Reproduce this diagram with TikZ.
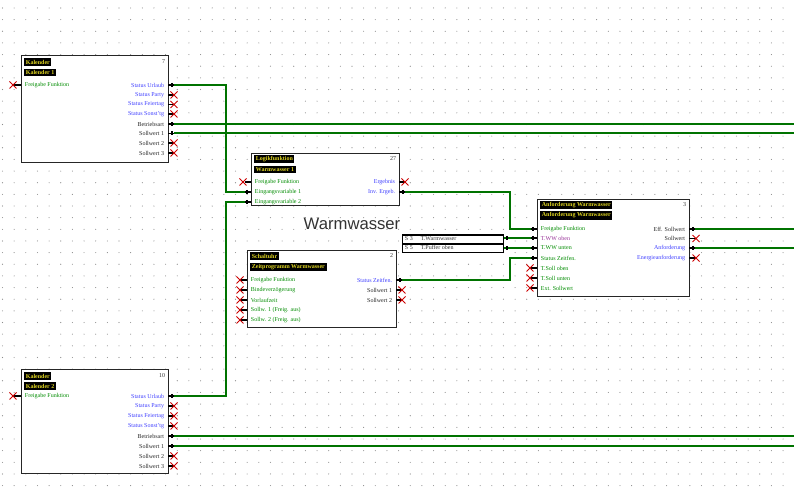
\documentclass[tikz,border=0pt]{standalone}
\usepackage{fontspec}
\setmainfont{Liberation Serif}
\newfontfamily\wwfont{Liberation Sans}
\usetikzlibrary{calc}
\newcommand\lblfont{\fontsize{4.5}{5}\selectfont}
\newcommand\crossat[1]{\draw[xm] ($(#1)+(-3.5,-3.5)$) -- ($(#1)+(3.5,3.5)$) ($(#1)+(-3.5,3.5)$) -- ($(#1)+(3.5,-3.5)$);}
\tikzset{
 blk/.style={draw=black!85, line width=1.1pt, fill=white, inner sep=0pt, anchor=north west},
 hdr/.style={fill=black, text=yellow!85!black, font=\lblfont\bfseries, inner sep=1.2pt, anchor=west},
 inl/.style={text=green!55!black, font=\lblfont, inner sep=0.5pt, anchor=west},
 outb/.style={text=blue!75, font=\lblfont, inner sep=0.5pt, anchor=east},
 outk/.style={text=black!85, font=\lblfont, inner sep=0.5pt, anchor=east},
 inp/.style={text=violet!80, font=\lblfont, inner sep=0.5pt, anchor=west},
 num/.style={text=black!80, font=\lblfont, inner sep=0.5pt, anchor=east},
 wire/.style={draw=green!45!black, line width=1.3pt},
 stub/.style={draw=black, line width=0.9pt},
 xm/.style={draw=red!80!black, line width=0.7pt},
 sens/.style={draw=black, line width=0.9pt, fill=white, anchor=north west, inner sep=0pt},
 stxt/.style={font=\lblfont, text=black!80, inner sep=0.5pt, anchor=west}
}
\begin{document}
\begin{tikzpicture}[x=0.75pt,y=-0.75pt]
\useasboundingbox (0,0) rectangle (794,495);
\fill[white] (0,0) rectangle (794,495);
% grid dots
\foreach \i in {0,...,68}{\foreach \j in {0,...,42}{\fill[black!45] (2.5+\i*11.65,8+\j*11.65) circle (0.55);}}

% ---------- wires ----------
\coordinate (k1urlaub) at (174,85);
\coordinate (k2urlaub) at (174,396);
\coordinate (lgin1) at (245,192);
\coordinate (lgin2) at (245,202);
\coordinate (lginv) at (405,192);
\coordinate (anfreig) at (531,229);
\coordinate (anwwo) at (531,238);
\coordinate (anwwu) at (531,248);
\coordinate (anzeit) at (531,258);
\coordinate (zpzeit) at (402,280);
\coordinate (k1betr) at (174,124);
\coordinate (k1soll) at (174,133);
\coordinate (k2betr) at (174,436);
\coordinate (k2soll) at (174,446);
\coordinate (aneff) at (695,229);
\coordinate (ananf) at (695,248);
\coordinate (rk1betr) at (794,124);
\coordinate (rk1soll) at (794,133);
\coordinate (rk2betr) at (794,436);
\coordinate (rk2soll) at (794,446);
\coordinate (raneff) at (794,229);
\coordinate (rananf) at (794,248);

\draw[wire] (k1urlaub) -| (226,192) -- (lgin1);
\draw[wire] (k2urlaub) -| (226,202) -- (lgin2);
\draw[wire] (lginv) -| (510,229) -- (anfreig);
\draw[wire] (zpzeit) -| (510,258) -- (anzeit);
\draw[wire] (k1betr) -- (rk1betr);
\draw[wire] (k1soll) -- (rk1soll);
\draw[wire] (k2betr) -- (rk2betr);
\draw[wire] (k2soll) -- (rk2soll);
\draw[wire] (aneff) -- (raneff);
\draw[wire] (ananf) -- (rananf);

% ---------- Kalender 1 ----------
\node[blk, minimum width=147*0.75pt, minimum height=107*0.75pt] (k1) at (21,55) {};
\node[hdr] (k1h1) at (24,62) {Kalender};
\node[hdr] (k1h2) at (24,72.5) {Kalender 1};
\node[num] (k1n) at (166,62) {7};
\node[inl] (k1i1) at (24,85) {Freigabe Funktion};
\node[outb] (k1o1) at (165,85) {Status Urlaub};
\node[outb] (k1o2) at (165,95) {Status Party};
\node[outb] (k1o3) at (165,104.5) {Status Feiertag};
\node[outb] (k1o4) at (165,114) {Status Sonst'tg};
\node[outk] (k1o5) at (165,124) {Betriebsart};
\node[outk] (k1o6) at (165,133.5) {Sollwert 1};
\node[outk] (k1o7) at (165,143) {Sollwert 2};
\node[outk] (k1o8) at (165,153) {Sollwert 3};
\foreach \y in {85,124,133.5}{\draw[stub] (168,\y) -- (174,\y); \draw[stub] (172,\y-2) -- (172,\y+2);}
\foreach \y in {95,104.5,114,143,153}{\draw[stub] (168,\y) -- (174,\y); \crossat{174,\y}}
\draw[stub] (21,85) -- (14,85); \crossat{13,85}

% ---------- Kalender 2 ----------
\node[blk, minimum width=147*0.75pt, minimum height=104*0.75pt] (k2) at (21,369) {};
\node[hdr] (k2h1) at (24,376) {Kalender};
\node[hdr] (k2h2) at (24,386) {Kalender 2};
\node[num] (k2n) at (166,376) {10};
\node[inl] (k2i1) at (24,396) {Freigabe Funktion};
\node[outb] (k2o1) at (165,396) {Status Urlaub};
\node[outb] (k2o2) at (165,406) {Status Party};
\node[outb] (k2o3) at (165,416) {Status Feiertag};
\node[outb] (k2o4) at (165,426) {Status Sonst'tg};
\node[outk] (k2o5) at (165,436) {Betriebsart};
\node[outk] (k2o6) at (165,446) {Sollwert 1};
\node[outk] (k2o7) at (165,456) {Sollwert 2};
\node[outk] (k2o8) at (165,466) {Sollwert 3};
\foreach \y in {396,436,446}{\draw[stub] (168,\y) -- (174,\y); \draw[stub] (172,\y-2) -- (172,\y+2);}
\foreach \y in {406,416,426,456,466}{\draw[stub] (168,\y) -- (174,\y); \crossat{174,\y}}
\draw[stub] (21,396) -- (14,396); \crossat{13,396}

% ---------- Logikfunktion ----------
\node[blk, minimum width=148*0.75pt, minimum height=52*0.75pt] (lg) at (251,153) {};
\node[hdr] (lgh1) at (254,159) {Logikfunktion};
\node[hdr] (lgh2) at (254,169.5) {Warmwasser 1};
\node[num] (lgn) at (397,159) {27};
\node[inl] (lgi1) at (254,182) {Freigabe Funktion};
\node[inl] (lgi2) at (254,192) {Eingangsvariable 1};
\node[inl] (lgi3) at (254,202) {Eingangsvariable 2};
\node[outb] (lgo1) at (396,182) {Ergebnis};
\node[outb] (lgo2) at (396,192) {Inv. Ergeb.};
\draw[stub] (251,182) -- (245,182); \crossat{243,182}
\foreach \y in {192,202}{\draw[stub] (251,\y) -- (245,\y); \draw[stub] (247,\y-2) -- (247,\y+2);}
\draw[stub] (399,182) -- (405,182); \crossat{405,182}
\draw[stub] (399,192) -- (405,192); \draw[stub] (403,190) -- (403,194);

\node[font=\wwfont\fontsize{12.5}{14}\selectfont, text=black!80, inner sep=0pt] (ww) at (352,224) {Warmwasser};

% ---------- Schaltuhr / Zeitprogramm ----------
\node[blk, minimum width=149*0.75pt, minimum height=77*0.75pt] (zp) at (247,250) {};
\node[hdr] (zph1) at (250,256) {Schaltuhr};
\node[hdr] (zph2) at (250,267) {Zeitprogramm Warmwasser};
\node[num] (zpn) at (394,256) {2};
\node[inl] (zpi1) at (250,280) {Freigabe Funktion};
\node[inl] (zpi2) at (250,290) {Bindeverzögerung};
\node[inl] (zpi3) at (250,300) {Vorlaufzeit};
\node[inl] (zpi4) at (250,310) {Sollw. 1 (Freig. aus)};
\node[inl] (zpi5) at (250,320) {Sollw. 2 (Freig. aus)};
\node[outb] (zpo1) at (393,280) {Status Zeitfen.};
\node[outk] (zpo2) at (393,290) {Sollwert 1};
\node[outk] (zpo3) at (393,300) {Sollwert 2};
\foreach \y in {280,290,300,310,320}{\draw[stub] (247,\y) -- (241,\y); \crossat{240,\y}}
\draw[stub] (396,280) -- (402,280); \draw[stub] (400,278) -- (400,282);
\foreach \y in {290,300}{\draw[stub] (396,\y) -- (402,\y); \crossat{402,\y}}

% ---------- sensors ----------
\node[sens, minimum width=101*0.75pt, minimum height=8.5*0.75pt] (s3) at (402,234.5) {};
\node[stxt] (s3t) at (404,238.7) {S 3\hspace{6pt}T.Warmwasser};
\node[sens, minimum width=101*0.75pt, minimum height=8.5*0.75pt] (s5) at (402,243.5) {};
\node[stxt] (s5t) at (404,247.7) {S 5\hspace{6pt}T.Puffer oben};
\draw[wire] (s3.east |- anwwo) -- (anwwo);
\draw[wire] (s5.east |- anwwu) -- (anwwu);
\draw[stub] (507,236) -- (507,240) (507,246) -- (507,250);

% ---------- Anforderung Warmwasser ----------
\node[blk, minimum width=152*0.75pt, minimum height=97*0.75pt] (an) at (537,199) {};
\node[hdr] (anh1) at (540,205) {Anforderung Warmwasser};
\node[hdr] (anh2) at (540,215.5) {Anforderung Warmwasser};
\node[num] (ann) at (687,205) {3};
\node[inl] (ani1) at (540,229) {Freigabe Funktion};
\node[inp] (ani2) at (540,238.5) {T.WW oben};
\node[inl] (ani3) at (540,248) {T.WW unten};
\node[inl] (ani4) at (540,258) {Status Zeitfen.};
\node[inl] (ani5) at (540,268) {T.Soll oben};
\node[inl] (ani6) at (540,278) {T.Soll unten};
\node[inl] (ani7) at (540,288) {Ext. Sollwert};
\node[outk] (ano1) at (686,229) {Eff. Sollwert};
\node[outk] (ano2) at (686,238.5) {Sollwert};
\node[outb] (ano3) at (686,248) {Anforderung};
\node[outb] (ano4) at (686,258) {Energieanforderung};
\foreach \y in {229,238,248,258}{\draw[stub] (537,\y) -- (531,\y); \draw[stub] (533,\y-2) -- (533,\y+2);}
\foreach \y in {268,278,288}{\draw[stub] (537,\y) -- (531,\y); \crossat{530,\y}}
\foreach \y in {229,248}{\draw[stub] (689,\y) -- (695,\y); \draw[stub] (693,\y-2) -- (693,\y+2);}
\foreach \y in {238.5,258}{\draw[stub] (689,\y) -- (695,\y); \crossat{696,\y}}
\end{tikzpicture}
\end{document}
